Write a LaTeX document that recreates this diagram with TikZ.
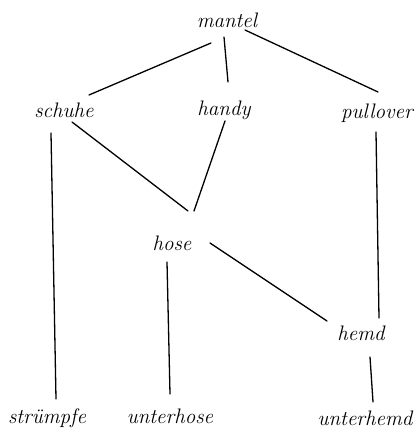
\documentclass[tikz,border=0pt]{standalone}
\begin{document}
\begin{tikzpicture}[x=1pt,y=-1pt,
  lbl/.style={font=\fontsize{21}{23}\selectfont\itshape, inner sep=2pt},
  edge/.style={line width=1.3pt, line cap=round}]
\useasboundingbox (0,0) rectangle (417,441);
\node[lbl] (mantel) at (227,20) {mantel};
\node[lbl] (schuhe) at (64,110) {schuhe};
\node[lbl] (handy) at (224,110) {handy};
\node[lbl, anchor=east] (pullover) at (415,113) {pullover};
\node[lbl] (hose) at (172,243) {hose};
\node[lbl] (hemd) at (361,333) {hemd};
\node[lbl] (struempfe) at (47,418) {strümpfe};
\node[lbl] (unterhose) at (170,416) {unterhose};
\node[lbl] (unterhemd) at (365,418) {unterhemd};
\draw[edge] ([shift={(-16,23)}]mantel.center) -- ([shift={(25,-15)}]schuhe.center);
\draw[edge] ([shift={(-3,17)}]mantel.center) -- ([shift={(4,-28)}]handy.center);
\draw[edge] ([shift={(18,10)}]mantel.center) -- ([shift={(-37,-21)}]pullover.east);
\draw[edge] ([shift={(-13,23)}]schuhe.center) -- ([shift={(9,-19)}]struempfe.center);
\draw[edge] ([shift={(8,12)}]schuhe.center) -- ([shift={(16,-32)}]hose.center);
\draw[edge] ([shift={(1,11)}]handy.center) -- ([shift={(22,-32)}]hose.center);
\draw[edge] ([shift={(-39,19)}]pullover.east) -- ([shift={(18,-15)}]hemd.center);
\draw[edge] ([shift={(38,0)}]hose.center) -- ([shift={(-34,-12)}]hemd.center);
\draw[edge] ([shift={(-5,19)}]hose.center) -- ([shift={(0,-22)}]unterhose.center);
\draw[edge] ([shift={(9,24)}]hemd.center) -- ([shift={(8,-16)}]unterhemd.center);
\end{tikzpicture}
\end{document}
